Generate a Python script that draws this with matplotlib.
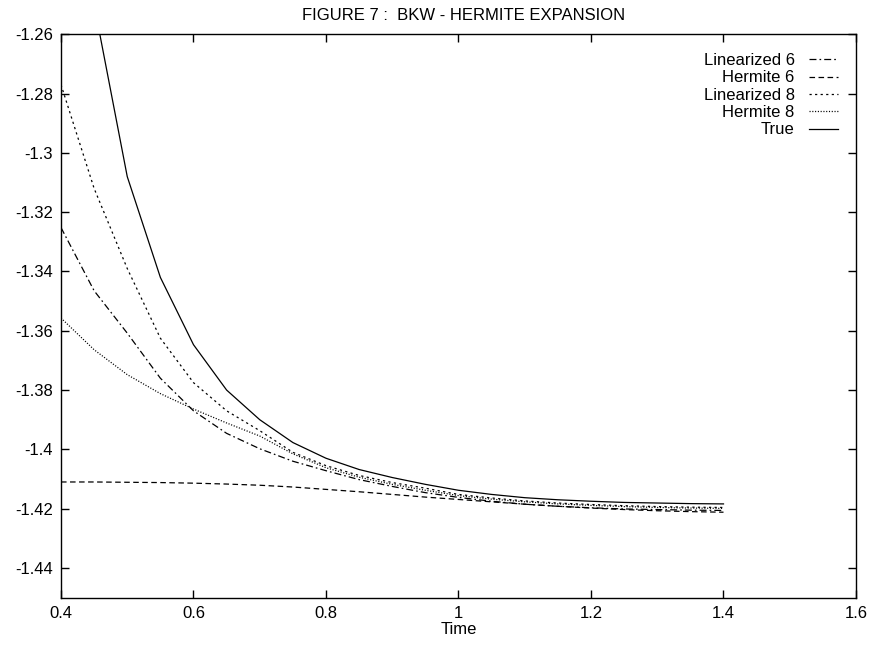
import matplotlib
matplotlib.use("Agg")
import matplotlib.pyplot as plt

plt.rcParams['font.family'] = ['Liberation Sans', 'DejaVu Sans']
plt.rcParams['lines.scale_dashes'] = False

time = [0.40, 0.45, 0.50, 0.55, 0.60, 0.65, 0.70, 0.75, 0.80, 0.85, 0.90,
        0.95, 1.00, 1.05, 1.10, 1.15, 1.20, 1.25, 1.30, 1.35, 1.40]

linearized6 = [-1.3252, -1.3465, -1.3608, -1.3760, -1.3870, -1.3946, -1.3998,
               -1.4040, -1.4072, -1.4102, -1.4125, -1.4146, -1.4162, -1.4175,
               -1.4185, -1.4192, -1.4197, -1.4201, -1.4203, -1.4205, -1.4206]
hermite6 = [-1.4110, -1.4110, -1.4111, -1.4112, -1.4114, -1.4117, -1.4121,
            -1.4127, -1.4135, -1.4143, -1.4152, -1.4161, -1.4169, -1.4177,
            -1.4185, -1.4192, -1.4198, -1.4203, -1.4207, -1.4210, -1.4212]
linearized8 = [-1.2770, -1.3120, -1.3390, -1.3625, -1.3775, -1.3870, -1.3937,
               -1.4010, -1.4055, -1.4088, -1.4112, -1.4131, -1.4152, -1.4164,
               -1.4174, -1.4181, -1.4186, -1.4190, -1.4193, -1.4195, -1.4196]
hermite8 = [-1.3557, -1.3664, -1.3748, -1.3812, -1.3864, -1.3911, -1.3955,
            -1.4015, -1.4062, -1.4094, -1.4118, -1.4138, -1.4156, -1.4168,
            -1.4177, -1.4184, -1.4189, -1.4193, -1.4196, -1.4198, -1.4199]
true_vals = [-1.1700, -1.2500, -1.3080, -1.3420, -1.3647, -1.3800, -1.3900,
             -1.3977, -1.4030, -1.4068, -1.4095, -1.4118, -1.4138, -1.4152,
             -1.4163, -1.4170, -1.4175, -1.4179, -1.4181, -1.4183, -1.4184]

xticks = [0.4, 0.6, 0.8, 1.0, 1.2, 1.4, 1.6]
xticklabels = ["0.4", "0.6", "0.8", "1", "1.2", "1.4", "1.6"]
yticks = [-1.26, -1.28, -1.30, -1.32, -1.34, -1.36, -1.38, -1.40, -1.42, -1.44]
yticklabels = ["-1.26", "-1.28", "-1.3", "-1.32", "-1.34", "-1.36", "-1.38",
               "-1.4", "-1.42", "-1.44"]

title = "FIGURE 7 :  BKW - HERMITE EXPANSION"
xlabel = "Time"

fig = plt.figure(figsize=(8.69, 6.49), dpi=100)
ax = fig.add_axes([61/869, 1-597.6/649, (856-61)/869, (597.6-34.3)/649])

lw = 0.9
ax.plot(time, linearized6, color='black', lw=lw, linestyle=(0, (5, 2.2, 1.2, 2.2)), label="Linearized 6")
ax.plot(time, hermite6, color='black', lw=lw, linestyle=(0, (4, 2.5)), label="Hermite 6")
ax.plot(time, linearized8, color='black', lw=lw, linestyle=(0, (1.6, 2.4)), label="Linearized 8")
ax.plot(time, hermite8, color='black', lw=lw, linestyle=(0, (0.8, 1.2)), label="Hermite 8")
ax.plot(time, true_vals, color='black', lw=lw, linestyle='-', label="True")

ax.set_xlim(0.4, 1.6)
ax.set_ylim(-1.45, -1.26)
ax.set_xticks(xticks)
ax.set_xticklabels(xticklabels)
ax.set_yticks(yticks)
ax.set_yticklabels(yticklabels)
ax.tick_params(direction='in', length=6, width=1, top=True, right=True,
               labelsize=12, pad=6)
for s in ax.spines.values():
    s.set_linewidth(1.0)

ax.set_xlabel(xlabel, fontsize=12, labelpad=1)
fig.text(464/869, 1-15/649, title, ha='center', va='center', fontsize=12)

leg = ax.legend(loc='upper right', bbox_to_anchor=(838/869, 1-53/649),
                bbox_transform=fig.transFigure, markerfirst=False,
                frameon=False, fontsize=12, handlelength=1.75,
                handletextpad=0.85, labelspacing=0.14, borderpad=0,
                borderaxespad=0)

fig.savefig("out.png", dpi=100)
